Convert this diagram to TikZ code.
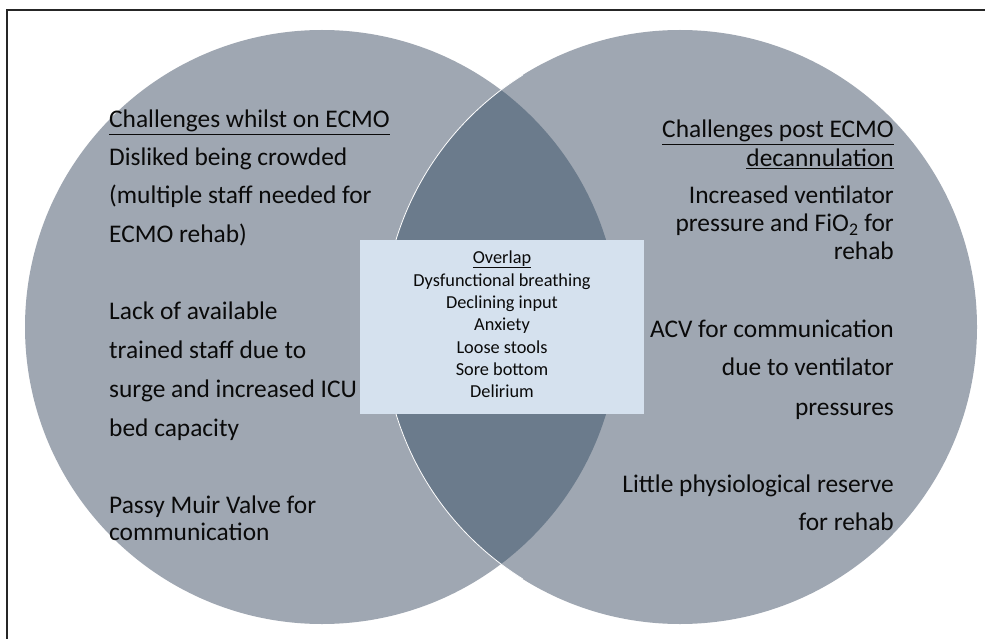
\documentclass[tikz,border=0pt]{standalone}
\usepackage{fontspec}
\setmainfont{Carlito}
\definecolor{circfill}{HTML}{9FA7B2}
\definecolor{lensfill}{HTML}{6B7B8C}
\definecolor{boxfill}{HTML}{D5E1EE}
\definecolor{txt}{HTML}{0A0A0A}
\begin{document}
\begin{tikzpicture}[x=1pt,y=-1pt,
  lt/.style={anchor=base west,inner sep=0pt,font=\fontsize{25.4}{30}\selectfont,text=txt},
  rt/.style={anchor=base east,inner sep=0pt,font=\fontsize{25.4}{30}\selectfont,text=txt},
  ot/.style={anchor=base,inner sep=0pt,font=\fontsize{18.3}{22}\selectfont,text=txt}]
\useasboundingbox (0,0) rectangle (985,639);
\fill[white] (0,0) rectangle (985,639);
\draw[line width=2pt,black!85] (7,639) -- (7,10) -- (985,10);
% circles
\fill[circfill] (322,327) circle (297);
\fill[circfill] (680,327) circle (297);
\begin{scope}
  \clip (322,327) circle (297);
  \fill[lensfill] (680,327) circle (297);
\end{scope}
\draw[white,line width=0.8pt] (680,327) ++(122:297) arc (122:238:297);
% overlap box
\node[fill=boxfill,minimum width=284pt,minimum height=174pt,inner sep=0pt] (box) at (502,327) {};
\node[ot] (o0) at (502,263) {\underline{Overlap}};
\node[ot] (o1) at (502,286) {Dysfunctional breathing};
\node[ot] (o2) at (502,308) {Declining input};
\node[ot] (o3) at (502,330) {Anxiety};
\node[ot] (o4) at (502,353) {Loose stools};
\node[ot] (o5) at (502,375) {Sore bottom};
\node[ot] (o6) at (502,397) {Delirium};
% left texts
\node[lt] (l1) at (109,128) {\underline{Challenges whilst on ECMO}};
\node[lt] (l2) at (109,166) {Disliked being crowded};
\node[lt] (l3) at (109,204) {(multiple staff needed for};
\node[lt] (l4) at (109,242) {ECMO rehab)};
\node[lt] (l5) at (109,319) {Lack of available};
\node[lt] (l6) at (109,358) {trained staff due to};
\node[lt] (l7) at (109,397) {surge and increased ICU};
\node[lt] (l8) at (109,436) {bed capacity};
\node[lt] (l9) at (109,513) {Passy Muir Valve for};
\node[lt] (l10) at (109,540) {communication};
% right texts
\node[rt] (r1) at (894,138) {\underline{Challenges post ECMO}};
\node[rt] (r2) at (894,167) {\underline{decannulation}};
\node[rt] (r3) at (894,204) {Increased ventilator};
\node[rt] (r4) at (894,232) {pressure and FiO\textsubscript{2} for};
\node[rt] (r5) at (894,259) {rehab};
\node[rt] (r6) at (894,337) {ACV for communication};
\node[rt] (r7) at (894,375) {due to ventilator};
\node[rt] (r8) at (894,415) {pressures};
\node[rt] (r9) at (894,492) {Little physiological reserve};
\node[rt] (r10) at (894,530) {for rehab};
\end{tikzpicture}
\end{document}
